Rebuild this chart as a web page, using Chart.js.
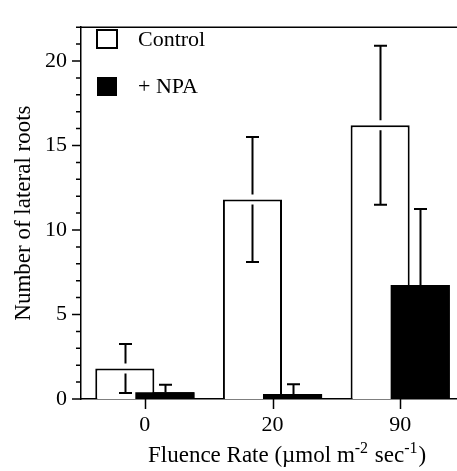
<!DOCTYPE html>
<html>
<head>
<meta charset="utf-8">
<script src="https://cdn.jsdelivr.net/npm/chart.js@4.4.1/dist/chart.umd.min.js"></script>
<style>
  html, body { margin: 0; padding: 0; background: #fff; overflow: hidden; }
  canvas { display: block; }
</style>
</head>
<body>
<canvas id="grafico" width="464" height="471"></canvas>
<script>
const CATEGORIAS = ['0', '20', '90'];
const CONTROL = [1.8, 11.8, 16.2];
const CONTROL_ERR = [1.45, 3.7, 4.7];
const NPA = [0.4, 0.3, 6.75];
const NPA_ERR = [0.45, 0.57, 4.5];
const Y_MAX = 22;

const SERIF = "'Liberation Serif', 'Times New Roman', serif";

// error bars, legend, ticks and x title drawn on top of the bars
const extras = {
  id: 'extras',
  afterDatasetsDraw(chart) {
    const ctx = chart.ctx;
    const y = chart.scales.y;
    const errs = [CONTROL_ERR, NPA_ERR];
    const vals = [CONTROL, NPA];

    // Chart.js paints dataset 0 last; the black bars must sit over the white ones
    chart.getDatasetMeta(1).data.forEach(b => b.draw(ctx, chart.chartArea));

    ctx.save();
    ctx.strokeStyle = '#000';
    ctx.lineWidth = 2;
    chart.data.datasets.forEach((ds, d) => {
      const meta = chart.getDatasetMeta(d);
      meta.data.forEach((bar, i) => {
        const x = Math.round(bar.x) + 0.5;
        const top = y.getPixelForValue(vals[d][i] + errs[d][i]);
        const low = y.getPixelForValue(Math.max(vals[d][i] - errs[d][i], 0));
        const barTop = y.getPixelForValue(vals[d][i]);
        ctx.beginPath();
        if (d === 0) {
          // white bar: leave a small gap where the line crosses the bar top
          ctx.moveTo(x, top); ctx.lineTo(x, barTop - 5);
          ctx.moveTo(x, barTop + 5); ctx.lineTo(x, low);
          ctx.moveTo(x - 6.5, low); ctx.lineTo(x + 6.5, low);
        } else {
          ctx.moveTo(x, top); ctx.lineTo(x, barTop);
        }
        ctx.moveTo(x - 6.5, top); ctx.lineTo(x + 6.5, top);
        ctx.stroke();
      });
    });
    ctx.restore();
  },
  afterDraw(chart) {
    const ctx = chart.ctx;
    const area = chart.chartArea;
    const y = chart.scales.y;
    const x = chart.scales.x;
    ctx.save();
    ctx.strokeStyle = '#000';
    ctx.lineWidth = 1.5;
    ctx.beginPath();
    // top frame
    ctx.moveTo(area.left - 0.75, area.top);
    ctx.lineTo(area.right, area.top);
    for (let v = 0; v <= Y_MAX; v++) {
      const py = y.getPixelForValue(v);
      const len = v % 5 === 0 ? 9 : 5;
      ctx.moveTo(area.left, py);
      ctx.lineTo(area.left - len, py);
    }
    CATEGORIAS.forEach((_, i) => {
      const px = Math.round(x.getPixelForValue(i)) + 0.5;
      ctx.moveTo(px, area.bottom);
      ctx.lineTo(px, area.bottom + 10);
    });
    ctx.stroke();

    // legend
    ctx.lineWidth = 2;
    ctx.fillStyle = '#fff';
    ctx.fillRect(97, 30, 20, 18);
    ctx.strokeRect(97, 30, 20, 18);
    ctx.fillStyle = '#000';
    ctx.fillRect(97, 77, 20, 19);
    ctx.font = `22px ${SERIF}`;
    ctx.textBaseline = 'middle';
    ctx.textAlign = 'left';
    ctx.fillText(chart.data.datasets[0].label, 138, 40);
    ctx.fillText(chart.data.datasets[1].label, 138, 87);

    // x axis title with superscripts
    const parts = [
      ['Fluence Rate (\u00b5mol m', false],
      ['-2', true],
      [' sec', false],
      ['-1', true],
      [')', false]
    ];
    const big = `23px ${SERIF}`;
    const small = `16px ${SERIF}`;
    let cx = 148;
    ctx.textBaseline = 'alphabetic';
    parts.forEach(([t, sup]) => {
      ctx.font = sup ? small : big;
      ctx.fillText(t, cx, sup ? 453 : 462);
      cx += ctx.measureText(t).width + (sup ? 1 : 0);
    });
    ctx.restore();
  }
};

new Chart(document.getElementById('grafico').getContext('2d'), {
  type: 'bar',
  data: {
    labels: CATEGORIAS,
    datasets: [
      {
        label: 'Control',
        data: CONTROL,
        backgroundColor: '#fff',
        borderColor: '#000',
        borderWidth: 2,
        categoryPercentage: 0.6275,
        barPercentage: 1.475
      },
      {
        label: '+ NPA',
        data: NPA,
        backgroundColor: '#000',
        borderColor: '#000',
        borderWidth: 0,
        categoryPercentage: 0.6275,
        barPercentage: 1.475
      }
    ]
  },
  options: {
    responsive: false,
    animation: false,
    devicePixelRatio: 1,
    layout: { padding: { top: 14, left: 0, right: 0, bottom: 0 } },
    plugins: { legend: { display: false }, tooltip: { enabled: false } },
    scales: {
      x: {
        grid: { display: false, drawTicks: false },
        border: { display: true, color: '#000', width: 1.5 },
        ticks: { color: '#000', padding: 13, font: { family: SERIF, size: 22 } },
        afterFit: (s) => { s.height = 72; }
      },
      y: {
        min: 0,
        max: Y_MAX,
        grid: { display: false, drawTicks: false },
        border: { display: true, color: '#000', width: 1.5 },
        ticks: {
          stepSize: 1,
          autoSkip: false,
          color: '#000',
          padding: 14,
          font: { family: SERIF, size: 22 },
          callback: (v) => (v % 5 === 0 ? v : '')
        },
        title: {
          display: true,
          text: 'Number of lateral roots',
          color: '#000',
          font: { family: SERIF, size: 23 },
          padding: { top: 10, bottom: 0 }
        },
        afterFit: (s) => { s.width = 81; }
      }
    }
  },
  plugins: [extras]
});
</script>
</body>
</html>
